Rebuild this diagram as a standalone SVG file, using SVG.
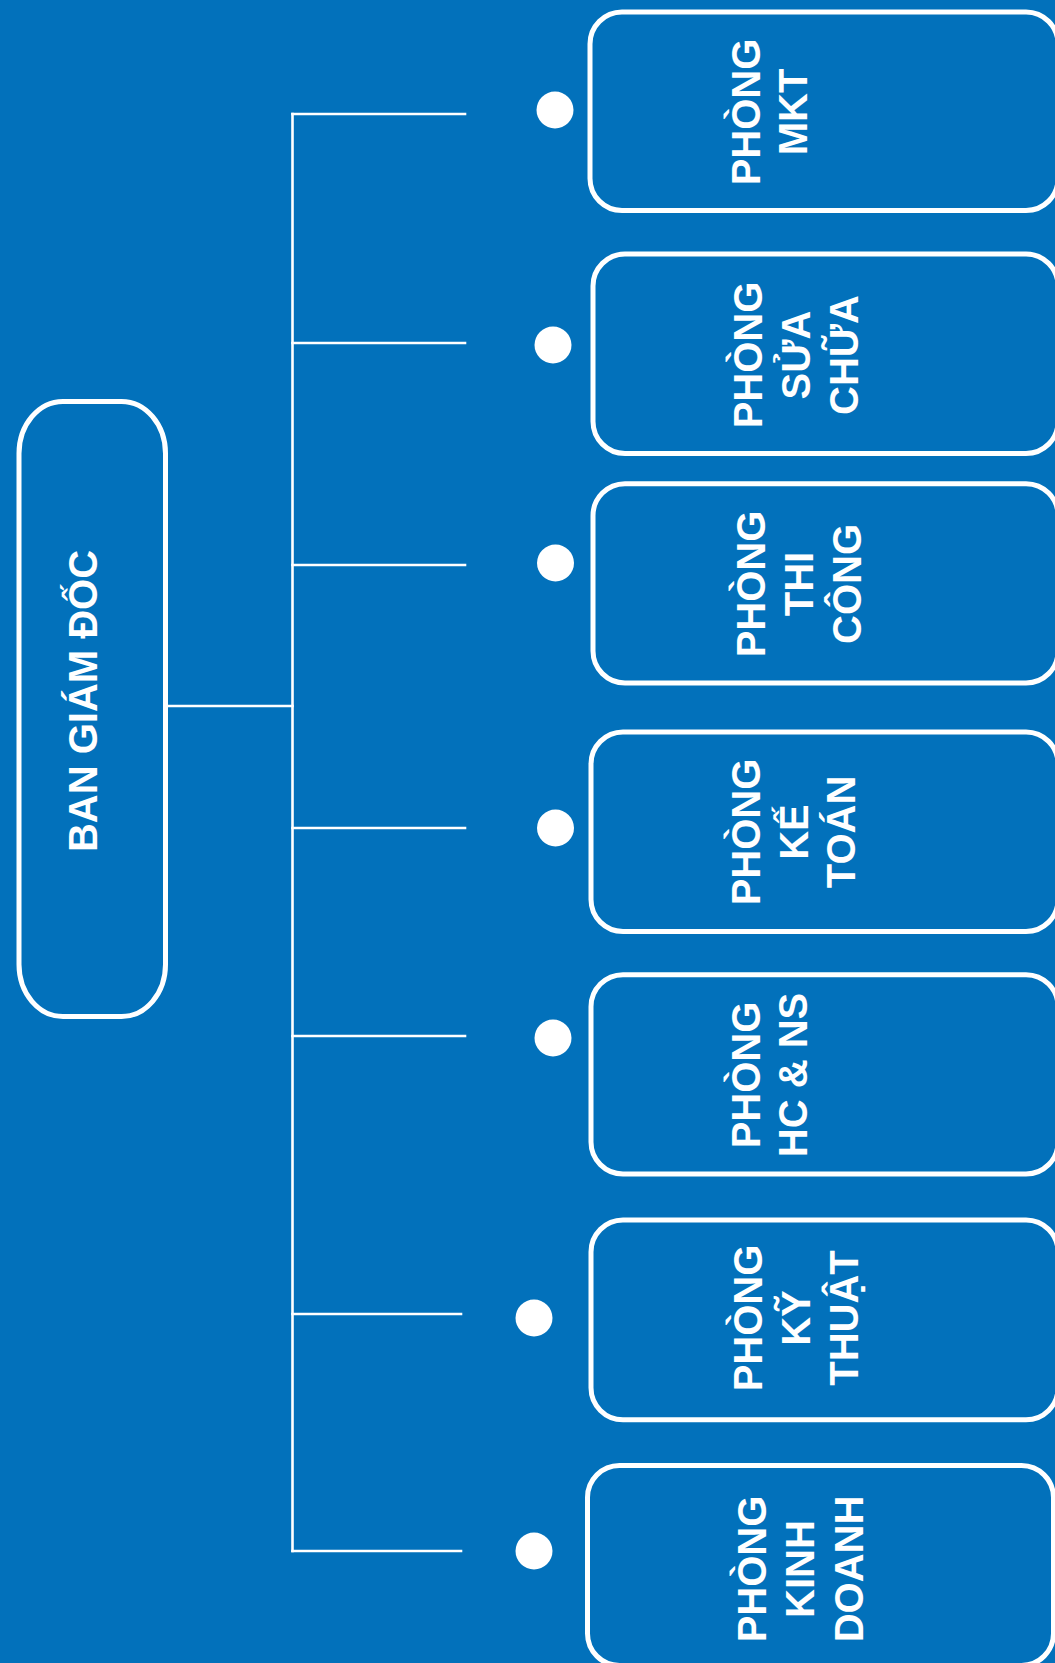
<svg xmlns="http://www.w3.org/2000/svg" width="1055" height="1663" viewBox="0 0 1055 1663">
<style>
.bg{fill:#0271bb}
.box{fill:none;stroke:#ffffff;stroke-width:5}
.lbl{font-family:"Liberation Sans",Arial,sans-serif;font-weight:bold;font-size:40px;fill:#ffffff;text-anchor:middle}
.conn line{stroke:#ffffff;stroke-width:2.6;stroke-linecap:square}
.dot{fill:#ffffff}
</style>
<rect class="bg" x="0" y="0" width="1055" height="1663"/>
<g id="connectors" class="conn">
<line x1="167" y1="706" x2="292.5" y2="706"/>
<line x1="292.5" y1="114" x2="292.5" y2="1551"/>
<line x1="292.5" y1="114" x2="465" y2="114"/>
<line x1="292.5" y1="343" x2="465" y2="343"/>
<line x1="292.5" y1="565" x2="465" y2="565"/>
<line x1="292.5" y1="828" x2="465" y2="828"/>
<line x1="292.5" y1="1036" x2="465" y2="1036"/>
<line x1="292.5" y1="1314" x2="461" y2="1314"/>
<line x1="292.5" y1="1551" x2="461" y2="1551"/>
</g>
<g id="dots">
<circle class="dot" cx="555" cy="110" r="18.5"/>
<circle class="dot" cx="553" cy="345" r="18.5"/>
<circle class="dot" cx="555.5" cy="563" r="18.5"/>
<circle class="dot" cx="555.5" cy="828" r="18.5"/>
<circle class="dot" cx="553" cy="1038" r="18.5"/>
<circle class="dot" cx="534" cy="1318" r="18.5"/>
<circle class="dot" cx="534" cy="1551" r="18.5"/>
</g>
<g id="ban-giam-doc">
<rect class="box" x="19" y="401.5" width="146.5" height="615" rx="44" ry="52"/>
<text class="lbl" transform="translate(97,701) rotate(-90)">BAN GIÁM ĐỐC</text>
</g>
<g id="phong-mkt">
<rect class="box" x="590" y="12" width="468" height="198.5" rx="32" ry="32"/>
<text class="lbl" transform="translate(760,112) rotate(-90)"><tspan x="0" y="0">PHÒNG</tspan><tspan x="0" y="47">MKT</tspan></text>
</g>
<g id="phong-sua-chua">
<rect class="box" x="593" y="254" width="465" height="199.5" rx="32" ry="32"/>
<text class="lbl" transform="translate(762,355) rotate(-90)"><tspan x="0" y="0">PHÒNG</tspan><tspan x="0" y="48">SỬA</tspan><tspan x="0" y="96">CHỮA</tspan></text>
</g>
<g id="phong-thi-cong">
<rect class="box" x="593" y="483.7" width="465" height="199.3" rx="32" ry="32"/>
<text class="lbl" transform="translate(765,584) rotate(-90)"><tspan x="0" y="0">PHÒNG</tspan><tspan x="0" y="47.5">THI</tspan><tspan x="0" y="96">CÔNG</tspan></text>
</g>
<g id="phong-ke-toan">
<rect class="box" x="591" y="732" width="467" height="199.5" rx="32" ry="32"/>
<text class="lbl" transform="translate(760,832) rotate(-90)"><tspan x="0" y="0">PHÒNG</tspan><tspan x="0" y="47.5">KẾ</tspan><tspan x="0" y="95">TOÁN</tspan></text>
</g>
<g id="phong-hc-ns">
<rect class="box" x="591" y="974.7" width="467" height="199.3" rx="32" ry="32"/>
<text class="lbl" transform="translate(760,1075) rotate(-90)"><tspan x="0" y="0">PHÒNG</tspan><tspan x="0" y="47">HC &amp; NS</tspan></text>
</g>
<g id="phong-ky-thuat">
<rect class="box" x="591" y="1220" width="467" height="199.8" rx="32" ry="32"/>
<text class="lbl" transform="translate(762,1318) rotate(-90)"><tspan x="0" y="0">PHÒNG</tspan><tspan x="0" y="48">KỸ</tspan><tspan x="0" y="96">THUẬT</tspan></text>
</g>
<g id="phong-kinh-doanh">
<rect class="box" x="587.5" y="1465.5" width="466" height="200" rx="32" ry="32"/>
<text class="lbl" transform="translate(766,1569) rotate(-90)"><tspan x="0" y="0">PHÒNG</tspan><tspan x="0" y="48">KINH</tspan><tspan x="0" y="97">DOANH</tspan></text>
</g>
</svg>
